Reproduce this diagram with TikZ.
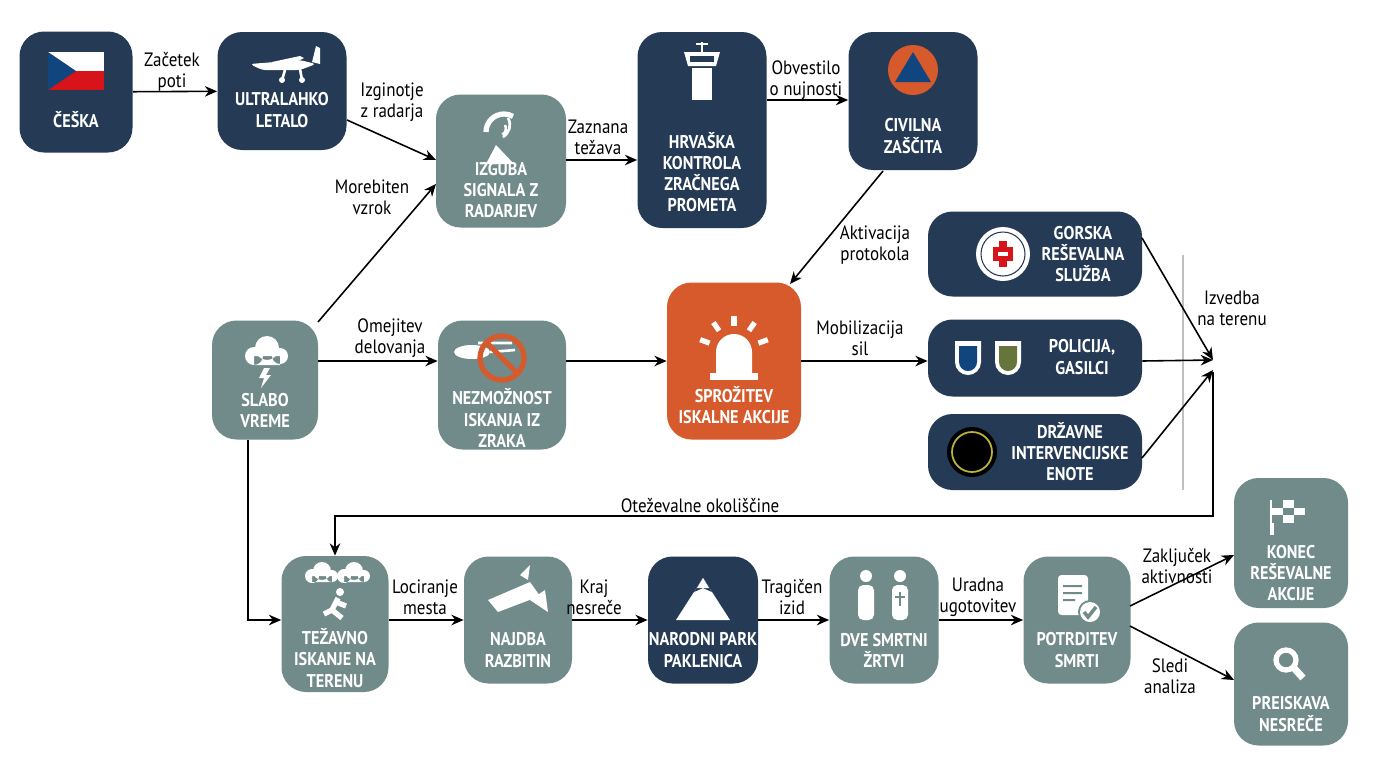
\documentclass[tikz,border=0pt]{standalone}
\usepackage{fontspec}
\setmainfont{PT Sans}
\newfontfamily\cond{PT Sans}[FakeStretch=0.88]
\usetikzlibrary{arrows.meta}
\definecolor{navy}{HTML}{243A55}
\definecolor{gry}{HTML}{718B8A}
\definecolor{org}{HTML}{D65A2B}
\definecolor{czred}{HTML}{D7141A}
\definecolor{czblue}{HTML}{11457E}
\tikzset{
 bx/.style={draw=none,rounded corners=14pt,inner sep=0pt},
 tx/.style={text=white,font=\cond\bfseries\fontsize{10.5}{12}\selectfont,align=center},
 lb/.style={font=\cond\fontsize{11}{12}\selectfont,align=center,inner sep=1pt},
 ar/.style={-{Stealth[length=7pt,width=6pt]},line width=0.9pt},
 ic/.style={fill=white,draw=none}
}
\newcommand\bx[8]{\node[bx,fill=#6,minimum width={#4*0.02cm},minimum height={#5*0.02cm}] (#1) at (#2,#3) {};
 \node[tx] at (#7) {#8};}
\begin{document}
\begin{tikzpicture}[x=0.02cm,y=-0.02cm]
\useasboundingbox[fill=white] (0,0) rectangle (1376,768);
\bx{ces}{76}{92}{113}{121}{navy}{76,120}{ČEŠKA}
\bx{ult}{282}{91}{129}{118}{navy}{282,110}{ULTRALAHKO\\LETALO}
\bx{izg}{501}{161}{130}{133}{gry}{501,190}{IZGUBA\\SIGNALA Z\\RADARJEV}
\bx{hrv}{702}{130}{129}{196}{navy}{702,172}{HRVAŠKA\\KONTROLA\\ZRAČNEGA\\PROMETA}
\bx{civ}{913}{101}{129}{138}{navy}{913,136}{CIVILNA\\ZAŠČITA}
\bx{gor}{1035}{254}{214}{85}{navy}{1083,254}{GORSKA\\REŠEVALNA\\SLUŽBA}
\bx{pol}{1035}{358}{214}{77}{navy}{1082,357}{POLICIJA,\\GASILCI}
\bx{drz}{1035}{452}{214}{76}{navy}{1070,452}{DRŽAVNE\\INTERVENCIJSKE\\ENOTE}
\bx{spr}{734}{361}{134}{157}{org}{734,405}{SPROŽITEV\\ISKALNE AKCIJE}
\bx{sla}{265}{380}{106}{119}{gry}{265,410}{SLABO\\VREME}
\bx{nez}{502}{385}{128}{129}{gry}{502,418}{NEZMOŽNOST\\ISKANJA IZ\\ZRAKA}
\bx{tez}{335}{624}{107}{136}{gry}{335,658}{TEŽAVNO\\ISKANJE NA\\TERENU}
\bx{naj}{518}{620}{108}{127}{gry}{518,650}{NAJDBA\\RAZBITIN}
\bx{nar}{703}{620}{110}{127}{navy}{703,650}{NARODNI PARK\\PAKLENICA}
\bx{dve}{884}{620}{109}{127}{gry}{884,650}{DVE SMRTNI\\ŽRTVI}
\bx{pot}{1077}{620}{107}{127}{gry}{1077,650}{POTRDITEV\\SMRTI}
\bx{kon}{1291}{543}{114}{130}{gry}{1291,573}{KONEC\\REŠEVALNE\\AKCIJE}
\bx{pre}{1291}{684}{114}{123}{gry}{1291,714}{PREISKAVA\\NESREČE}
% icons
\fill[white] (48,52) rectangle (104,71); \fill[czred] (48,71) rectangle (104,90); \fill[czblue] (48,52)--(76,71)--(48,90)--cycle;
% plane
\fill[ic,rounded corners=2pt] (250,64) -- (300,60) -- (316,64) -- (300,70) -- (262,70) -- cycle;
\fill[ic] (272,62)--(300,56)--(304,58)--(292,64)--cycle;
\fill[ic] (312,62)--(316,46)--(320,48)--(320,64)--cycle;
\draw[white,line width=1.5pt] (285,70)--(282,80) (300,69)--(302,80);
\fill[ic] (282,80) circle (3) (302,80) circle (3);
% radar
\draw[white,line width=3pt] (486,132) arc (180:300:18);
\fill[ic] (496,145)--(486,164)--(514,164)--cycle;
\draw[white,line width=1.5pt] (505,125) arc(-30:60:7) (508,118) arc(-30:60:14);
% tower
\fill[ic] (684,52) -- (720,52) -- (716,66) -- (688,66) -- cycle; \fill[navy] (690,56) rectangle (714,62);
\fill[ic] (692,68) rectangle (712,100); \draw[white,line width=1.5pt](702,52)--(702,42) (696,44)--(708,44);
\fill[org] (913,70) circle (25); \fill[czblue] (913,52)--(895,82)--(931,82)--cycle;
% cloud + lightning
\fill[ic] (254,356) circle (9) (267,348) circle (12) (280,356) circle (8) (254,356) rectangle (280,365);
\fill[ic] (264,368)--(270,368)--(266,375)--(271,375)--(261,388)--(264,378)--(259,378)--cycle;
% heli
\fill[ic] (472,352) ellipse (18 and 7); \draw[white,line width=1.5pt](478,343)--(512,343) (490,352)--(515,350);
\draw[org,line width=3pt] (502,358) circle (22) (487,343)--(517,373);
% siren
\fill[ic] (710,373) rectangle (758,380); \fill[ic] (716,373) -- (716,352) arc (180:360:18) -- (752,373) -- cycle;
\foreach \a in {200,235,270,305,340} \draw[white,line width=3pt] (734,352) ++(\a:26) -- ++(\a:10);
% badges
\fill[white] (1003,254) circle (27); \draw[navy,line width=0.6pt](1003,254) circle (22); \fill[czred] (993,247) rectangle (1013,261); \fill[czred] (999,241) rectangle (1007,267); \fill[white](998,252) rectangle (1008,256);
\fill[white] (955,341)--(981,341)--(981,362) arc(0:180:13)--cycle; \fill[czblue] (959,346)--(977,346)--(977,362) arc(0:180:9)--cycle;
\fill[white] (995,341)--(1021,341)--(1021,362) arc(0:180:13)--cycle; \fill[navy!70!yellow] (999,346)--(1017,346)--(1017,362) arc(0:180:9)--cycle;
\fill[black] (972,452) circle (25); \draw[yellow!70!black,line width=1pt](972,452) circle(20);
% rain/person
\fill[ic] (312,576) circle (7) (322,571) circle (9) (332,576) circle(6) (312,576) rectangle(332,582);
\fill[ic] (344,576) circle (7) (354,571) circle (9) (364,576) circle(6) (344,576) rectangle(364,582);
\fill[ic](340,592) circle(4); \draw[white,line width=3pt](338,598)--(332,610)--(324,614) (332,610)--(342,618) (336,602)--(346,606);
% wreck
\fill[ic] (488,600)--(530,582)--(540,596)--(498,612)--cycle; \fill[ic] (520,575)--(530,565)--(528,580)--cycle; \fill[ic](530,600)--(545,590)--(548,612)--cycle;
\fill[ic] (703,578)--(676,620)--(730,620)--cycle; \fill[navy] (703,578)--(694,592)--(703,588)--(712,592)--cycle;
\fill[ic] (703,578)--(697,588)--(709,588)--cycle;
\fill[ic] (866,576) circle (6) (900,576) circle(6); \fill[ic,rounded corners=3pt] (858,585) rectangle (874,620) (892,585) rectangle (908,620); \draw[gry,line width=1pt](900,592)--(900,606) (895,597)--(905,597);
\fill[ic,rounded corners=2pt] (1058,575) rectangle (1088,615); \fill[gry](1063,585) rectangle (1082,587) (1063,592) rectangle(1082,594) (1063,599) rectangle(1075,601);
\fill[gry] (1090,612) circle (12); \fill[ic](1090,612) circle(10); \draw[gry,line width=2pt](1084,612)--(1088,617)--(1096,607);
\draw[white,line width=2.5pt](1272,535)--(1272,500); \fill[ic] (1272,500) rectangle (1305,523); \foreach \i/\j in {0/0,2/0,1/1,0/2,2/2}{\fill[gry] (1272+\i*11,500+\j*7.7) rectangle ++(11,7.7);}
\draw[white,line width=3pt] (1286,660) circle (10); \draw[white,line width=4pt](1293,667)--(1303,678);
% edges
\draw[ar] (ces) -- (ult); \node[lb] at (172,72) {Začetek\\poti};
\draw[ar] (347,120) -- (436,160); \node[lb] at (392,102) {Izginotje\\z radarja};
\draw[ar] (izg.east|-0,160) -- (hrv.west|-0,160); \node[lb] at (598,137) {Zaznana\\težava};
\draw[ar] (hrv.east|-0,100) -- (civ.west|-0,100); \node[lb] at (806,80) {Obvestilo\\o nujnosti};
\draw[ar] (883,171) -- (790,284); \node[lb] at (875,245) {Aktivacija\\protokola};
\draw[ar] (318,322) -- (436,184); \node[lb] at (372,197) {Morebiten\\vzrok};
\draw[ar] (sla.east|-0,361) -- (nez.west|-0,361); \node[lb] at (390,338) {Omejitev\\delovanja};
\draw[ar] (nez.east|-0,361) -- (spr.west|-0,361);
\draw[ar] (spr.east|-0,361) -- (pol.west|-0,361); \node[lb] at (860,338) {Mobilizacija\\sil};
\draw[black!25,line width=1pt] (1183,255) -- (1183,490);
\coordinate (j) at (1213,360);
\draw[ar] (1142,238) -- (j); \draw[ar] (pol.east|-0,361) -- (j); \draw[ar] (1142,458) -- (1213,370);
\node[lb] at (1232,308) {Izvedba\\na terenu};
\draw[ar] (1213,372) -- (1213,516) -- (335,516) -- (tez.north); \node[lb] at (700,506) {Oteževalne okoliščine};
\draw[ar] (248,440) -- (248,620) -- (tez.west|-0,620);
\draw[ar] (tez.east|-0,620) -- (naj.west|-0,620); \node[lb] at (425,597) {Lociranje\\mesta};
\draw[ar] (naj.east|-0,620) -- (nar.west|-0,620); \node[lb] at (594,597) {Kraj\\nesreče};
\draw[ar] (nar.east|-0,620) -- (dve.west|-0,620); \node[lb] at (792,597) {Tragičen\\izid};
\draw[ar] (dve.east|-0,620) -- (pot.west|-0,620); \node[lb] at (978,597) {Uradna\\ugotovitev};
\draw[ar] (1130,606) -- (1234,555); \node[lb] at (1177,566) {Zaključek\\aktivnosti};
\draw[ar] (1130,626) -- (1234,680); \node[lb] at (1170,676) {Sledi\\analiza};
\end{tikzpicture}
\end{document}
